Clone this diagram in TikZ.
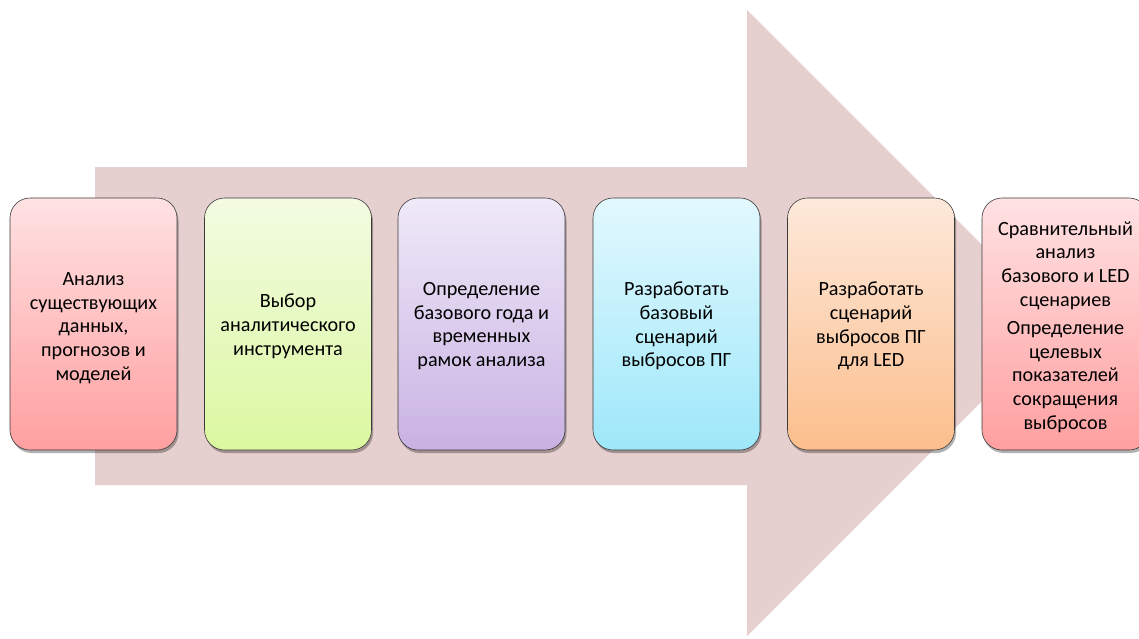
\documentclass[tikz,border=0pt]{standalone}
\usepackage{fontspec}
\setmainfont{Carlito}
\usetikzlibrary{shadows}
\definecolor{arrowfill}{HTML}{E6CFCF}
\definecolor{boxline}{HTML}{3A3A3A}
\definecolor{rTop}{HTML}{FFE2E3}\definecolor{rBot}{HTML}{FF9FA0}
\definecolor{gTop}{HTML}{F3FBE2}\definecolor{gBot}{HTML}{DBF8A0}
\definecolor{vTop}{HTML}{EFE9F8}\definecolor{vBot}{HTML}{C9B2E3}
\definecolor{cTop}{HTML}{E2F8FE}\definecolor{cBot}{HTML}{9EE8FA}
\definecolor{oTop}{HTML}{FDE9DB}\definecolor{oBot}{HTML}{FCBE8C}
\tikzset{
  stepbox/.style={draw=boxline, line width=0.6pt, rounded corners=20pt,
    minimum width=167pt, minimum height=252pt, align=center,
    font=\fontsize{20.2}{23.8}\selectfont, text=black, inner sep=2pt,
    drop shadow={shadow xshift=1.5pt, shadow yshift=-3pt, opacity=0.3, fill=black}},
  steptext/.style={align=center, font=\fontsize{20.2}{23.8}\selectfont, text=black, inner sep=0pt},
}
\begin{document}
\begin{tikzpicture}[x=1pt,y=-1pt]
\useasboundingbox (0,0) rectangle (1139,638);
\fill[arrowfill] (95,167) -- (747,167) -- (747,10) -- (1060,323) -- (747,636) -- (747,485) -- (95,485) -- cycle;
\node[stepbox, top color=rTop, bottom color=rBot] (b1) at (93.5,324) {};
\node[stepbox, top color=gTop, bottom color=gBot] (b2) at (288,324) {};
\node[stepbox, top color=vTop, bottom color=vBot] (b3) at (481.5,324) {};
\node[stepbox, top color=cTop, bottom color=cBot] (b4) at (676.5,324) {};
\node[stepbox, top color=oTop, bottom color=oBot] (b5) at (871,324) {};
\node[stepbox, top color=rTop, bottom color=rBot] (b6) at (1065.5,324) {};
\node[steptext] (t1) at ([yshift=-4pt]b1.center) {Анализ\\существующих\\данных,\\прогнозов и\\моделей};
\node[steptext] (t2) at ([yshift=-2pt]b2.center) {Выбор\\аналитического\\инструмента};
\node[steptext] (t3) at ([yshift=-2pt]b3.center) {Определение\\базового года и\\временных\\рамок анализа};
\node[steptext] (t4) at ([yshift=-2pt]b4.center) {Разработать\\базовый\\сценарий\\выбросов ПГ};
\node[steptext] (t5) at ([yshift=-2pt]b5.center) {Разработать\\сценарий\\выбросов ПГ\\для LED};
\node[steptext] (t6) at ([yshift=-3pt]b6.center) {Сравнительный\\анализ\\базового и LED\\сценариев\\[4pt]Определение\\целевых\\показателей\\сокращения\\выбросов};
\end{tikzpicture}
\end{document}
